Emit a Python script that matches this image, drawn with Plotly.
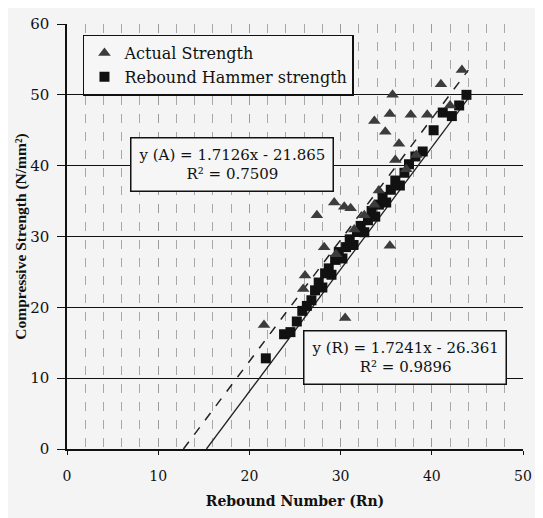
import numpy as np
import plotly.graph_objects as go

# ---- data ----
actual_x = [21.6, 25.9, 26.1, 27.4, 29.3, 30.4, 31.1, 32.6, 33.7, 35.4, 30.5,
            33.7, 34.9, 35.4, 35.7, 36.0, 36.4, 37.7, 39.5, 41.0, 42.0, 43.3,
            28.2, 29.5, 31.5, 34.2, 37.2, 38.3]
actual_y = [17.5, 22.6, 24.5, 33.0, 34.8, 34.2, 34.0, 33.0, 34.5, 28.7, 18.5,
            46.3, 44.8, 47.3, 50.0, 40.8, 43.1, 47.2, 47.2, 51.5, 48.5, 53.5,
            28.5, 27.5, 31.0, 36.5, 39.5, 41.5]

rebound_x = [21.8, 23.8, 24.5, 25.2, 25.8, 26.3, 26.8, 27.2, 27.6, 28.0, 28.3,
             28.7, 29.0, 29.4, 29.8, 30.2, 30.6, 31.0, 31.4, 31.8, 32.2, 32.6,
             33.0, 33.4, 33.8, 34.2, 34.6, 35.0, 35.5, 36.0, 36.5, 37.0, 37.5,
             38.2, 39.0, 40.2, 41.2, 42.2, 43.0, 43.8]
rebound_y = [12.8, 16.2, 16.5, 18.0, 19.5, 20.2, 21.0, 22.4, 23.5, 22.8, 24.8,
             25.5, 24.6, 26.7, 27.8, 26.9, 28.5, 29.6, 28.8, 30.7, 31.5, 30.6,
             32.3, 33.6, 32.8, 34.5, 35.6, 34.8, 36.6, 37.9, 37.2, 39.0, 40.2,
             41.3, 42.0, 45.0, 47.5, 47.0, 48.5, 50.0]

# trendline coefficients (as printed on the chart)
slope_a, icpt_a = 1.7126, -21.865
slope_r, icpt_r = 1.7241, -26.361
trend_end = 44.0

x_ticks = [0, 10, 20, 30, 40, 50]
y_ticks = [0, 10, 20, 30, 40, 50, 60]

FONT = "DejaVu Serif"

fig = go.Figure()

xa = np.array([-icpt_a / slope_a, trend_end])
fig.add_trace(go.Scatter(x=xa, y=slope_a * xa + icpt_a, mode="lines",
                         line=dict(color="#222", width=1.5, dash="dash"),
                         showlegend=False, hoverinfo="skip"))
xr = np.array([-icpt_r / slope_r, trend_end])
fig.add_trace(go.Scatter(x=xr, y=slope_r * xr + icpt_r, mode="lines",
                         line=dict(color="#222", width=1.3),
                         showlegend=False, hoverinfo="skip"))

fig.add_trace(go.Scatter(x=rebound_x, y=rebound_y, mode="markers",
                         name="Rebound Hammer strength",
                         marker=dict(symbol="square", size=10, color="#111")))
fig.add_trace(go.Scatter(x=actual_x, y=actual_y, mode="markers",
                         name="Actual Strength",
                         marker=dict(symbol="triangle-up", size=11, color="#3c3c3c")))

fig.add_annotation(x=18.1, y=40.1, xref="x", yref="y", showarrow=False,
                   text="y (A) = 1.7126x - 21.865<br>R² = 0.7509",
                   font=dict(family=FONT, size=15, color="#111"),
                   bgcolor="#f6f6f6", bordercolor="#111", borderwidth=1.5,
                   borderpad=7, align="center")
fig.add_annotation(x=37.1, y=12.9, xref="x", yref="y", showarrow=False,
                   text="y (R) = 1.7241x - 26.361<br>R² = 0.9896",
                   font=dict(family=FONT, size=15, color="#111"),
                   bgcolor="#f6f6f6", bordercolor="#111", borderwidth=1.5,
                   borderpad=7, align="center")

fig.update_layout(
    width=535, height=510,
    margin=dict(l=59, r=20, t=16, b=69),
    paper_bgcolor="#f4f4f4", plot_bgcolor="#f4f4f4",
    font=dict(family=FONT, size=15, color="#111"),
    legend=dict(x=0.035, y=0.975, xanchor="left", yanchor="top",
                bgcolor="#f6f6f6", bordercolor="#111", borderwidth=1.5,
                traceorder="reversed", font=dict(family=FONT, size=16),
                itemwidth=30, tracegroupgap=0),
    xaxis=dict(range=[0, 50], tickvals=x_ticks, showgrid=True,
               gridcolor="#9a9a9a", griddash="dash", gridwidth=1,
               minor=dict(dtick=2, showgrid=True, gridcolor="#a8a8a8",
                          griddash="dash", gridwidth=1),
               showline=True, linecolor="#111", linewidth=1.5,
               ticks="outside", ticklen=4, tickcolor="#111",
               ticklabelstandoff=9, automargin=False,
               zeroline=False, tickfont=dict(size=14),
               title=dict(text="<b>Rebound Number (Rn)</b>", font=dict(size=14),
                          standoff=14)),
    yaxis=dict(range=[0, 60], tickvals=y_ticks, showgrid=True,
               gridcolor="#111", gridwidth=1.2,
               showline=True, linecolor="#111", linewidth=1.5,
               ticks="outside", ticklen=8, tickcolor="#111",
               ticklabelstandoff=5, automargin=False,
               zeroline=False, tickfont=dict(size=15),
               title=dict(text="<b>Compressive Strength (N/mm²)</b>",
                          font=dict(family="Liberation Serif", size=15.5),
                          standoff=0)),
)

fig.write_html("out.html")
